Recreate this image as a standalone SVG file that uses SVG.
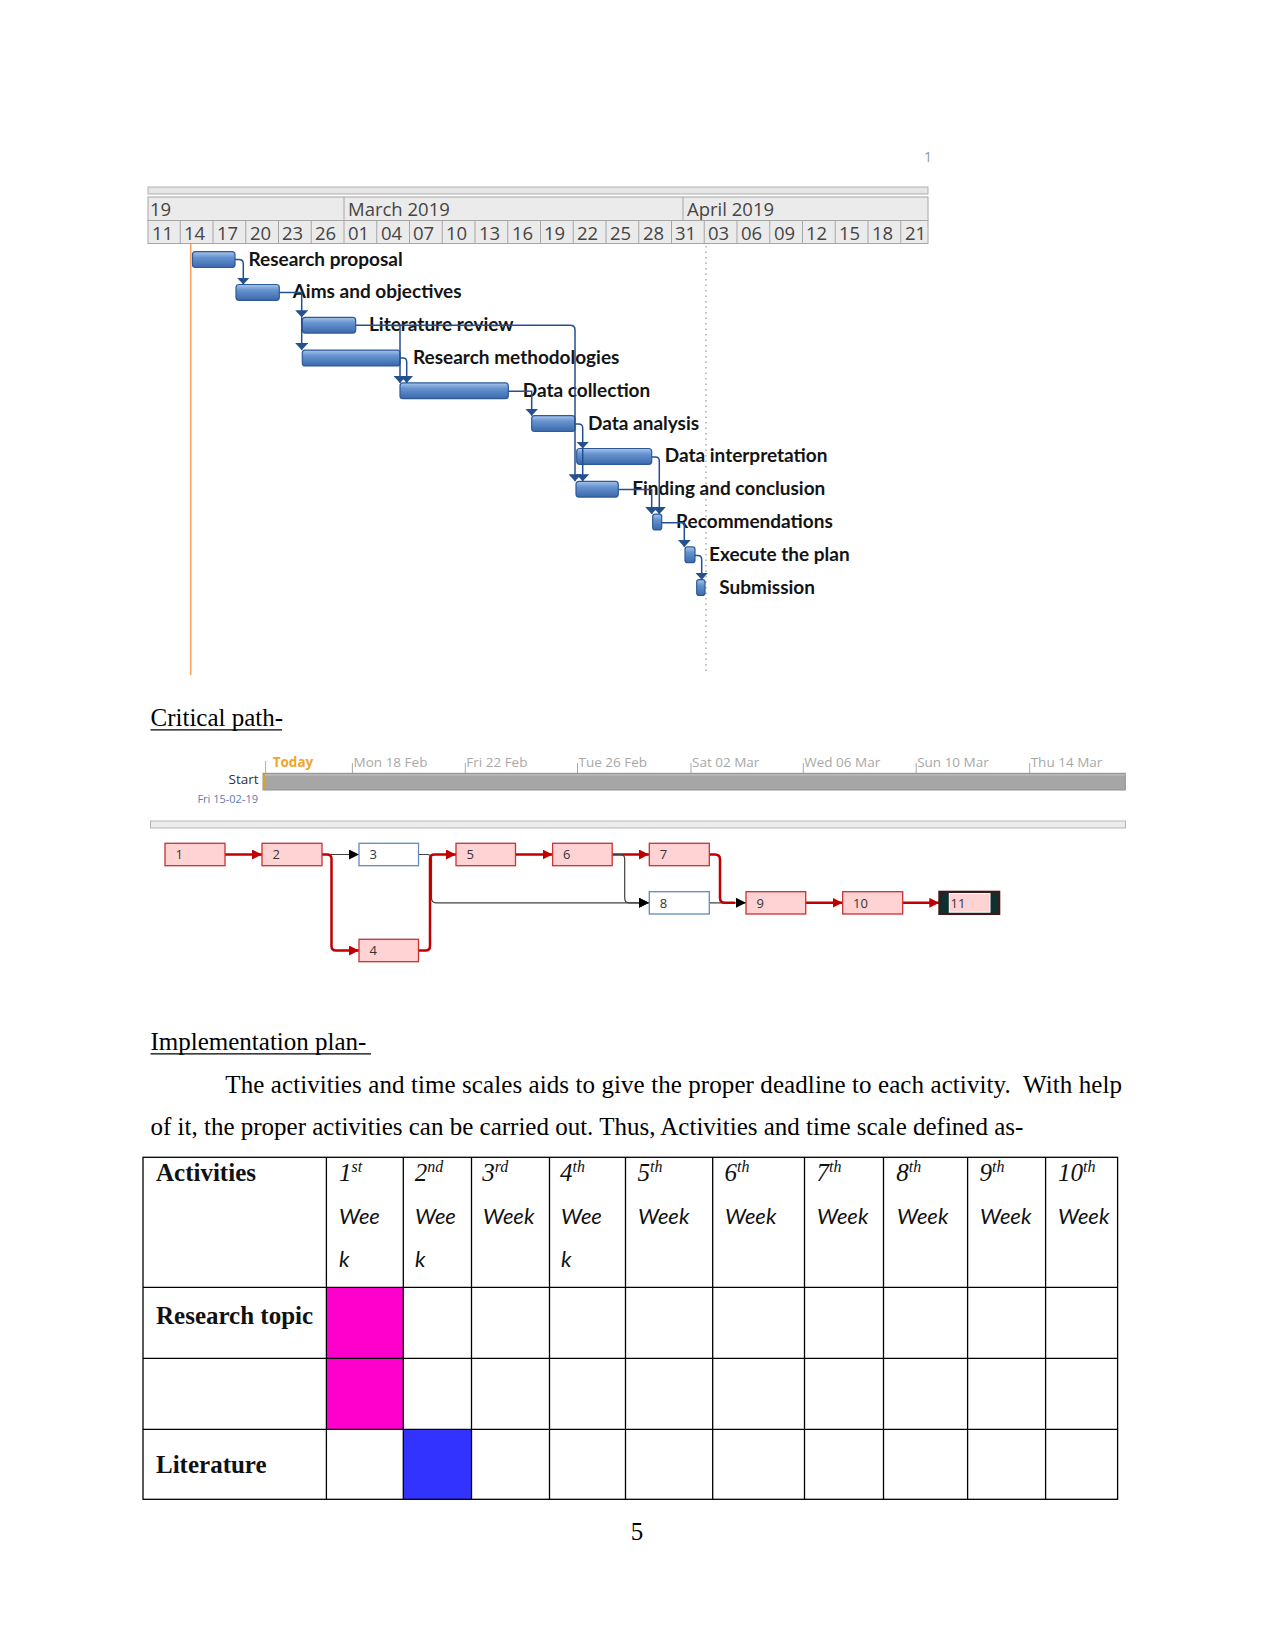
<svg xmlns="http://www.w3.org/2000/svg" width="1275" height="1651" viewBox="0 0 1275 1651">
<defs>
<linearGradient id="bar" x1="0" y1="0" x2="0" y2="1">
<stop offset="0" stop-color="#a9c6ea"/>
<stop offset="0.35" stop-color="#6693d0"/>
<stop offset="1" stop-color="#3b68aa"/>
</linearGradient>
<marker id="ga" markerUnits="userSpaceOnUse" viewBox="0 0 7 13" refX="7" refY="6.5" markerWidth="7" markerHeight="13" orient="auto">
<path d="M0,0 L7,6.5 L0,13 z" fill="#24508f"/>
</marker>
<marker id="ra" markerUnits="userSpaceOnUse" viewBox="0 0 10 10" refX="10" refY="5" markerWidth="10" markerHeight="10" orient="auto">
<path d="M0,0 L10,5 L0,10 z" fill="#c00000"/>
</marker>
<marker id="ka" markerUnits="userSpaceOnUse" viewBox="0 0 10 10" refX="10" refY="5" markerWidth="10" markerHeight="10" orient="auto">
<path d="M0,0 L10,5 L0,10 z" fill="#000"/>
</marker>
</defs>
<style>
.hdr{fill:#ebebeb;stroke:#a6a6a6;stroke-width:1}
.hn{font-family:"Open Sans","DejaVu Sans",sans-serif;font-size:18.5px;fill:#454545}
.bar{fill:url(#bar);stroke:#2d5a96;stroke-width:1.2}
.gl{font-family:Lato,"Open Sans",sans-serif;font-weight:bold;font-size:19px;fill:#141414}
.gc{fill:none;stroke:#24508f;stroke-width:1.5}
.tl{font-family:"Open Sans","DejaVu Sans",sans-serif;font-size:13.5px;fill:#a8a8a8}
.tk{stroke:#a8a8a8;stroke-width:1}
.nd{fill:#ffd3d3;stroke:#cc3030;stroke-width:1.3}
.nb{fill:#fff;stroke:#5f8bc0;stroke-width:1.3}
.nt{font-family:"Open Sans","DejaVu Sans",sans-serif;font-size:13px;fill:#333}
.rl{fill:none;stroke:#c00000;stroke-width:2.5}
.kl{fill:none;stroke:#404040;stroke-width:1.2}
.body{font-family:"Liberation Serif","Times New Roman",serif;font-size:25px;fill:#000}
.bold{font-family:"Liberation Serif","Times New Roman",serif;font-size:25px;font-weight:bold;fill:#111}
.num{font-family:"Liberation Serif","Times New Roman",serif;font-size:25px;font-style:italic;fill:#111}
.sup{font-size:16px}
.wk{font-family:Lato,"Open Sans",sans-serif;font-style:italic;font-size:22px;fill:#111}
.tb{fill:none;stroke:#000;stroke-width:1.3}
</style>
<rect width="1275" height="1651" fill="#fff"/>

<text x="924" y="162" font-family="Open Sans, sans-serif" font-size="14" fill="#8a9aaa">1</text>

<g id="gantt-header">
<rect x="148" y="187" width="780" height="7" fill="#e6e6e6" stroke="#b0b0b0"/>
<rect class="hdr" x="148" y="197" width="780" height="23.5"/>
<rect class="hdr" x="148" y="220.5" width="780" height="23"/>
<path d="M344,197V220.5M683,197V220.5" stroke="#a6a6a6"/>
<path d="M180.25,220.5V243.5M213,220.5V243.5M245.75,220.5V243.5M278.5,220.5V243.5M311.25,220.5V243.5M344,220.5V243.5M376.75,220.5V243.5M409.5,220.5V243.5M442.25,220.5V243.5M475,220.5V243.5M507.75,220.5V243.5M540.5,220.5V243.5M573.25,220.5V243.5M606,220.5V243.5M638.75,220.5V243.5M671.5,220.5V243.5M704.25,220.5V243.5M737,220.5V243.5M769.75,220.5V243.5M802.5,220.5V243.5M835.25,220.5V243.5M868,220.5V243.5M900.75,220.5V243.5" stroke="#a6a6a6"/>
<text class="hn" x="150" y="216">19</text>
<text class="hn" x="348" y="216">March 2019</text>
<text class="hn" x="687" y="216">April 2019</text>
<g class="hn">
<text x="152" y="240">11</text><text x="184" y="240">14</text><text x="217" y="240">17</text><text x="250" y="240">20</text><text x="282" y="240">23</text><text x="315" y="240">26</text><text x="348" y="240">01</text><text x="381" y="240">04</text><text x="413" y="240">07</text><text x="446" y="240">10</text><text x="479" y="240">13</text><text x="512" y="240">16</text><text x="544" y="240">19</text><text x="577" y="240">22</text><text x="610" y="240">25</text><text x="643" y="240">28</text><text x="675" y="240">31</text><text x="708" y="240">03</text><text x="741" y="240">06</text><text x="774" y="240">09</text><text x="806" y="240">12</text><text x="839" y="240">15</text><text x="872" y="240">18</text><text x="905" y="240">21</text>
</g>
<line x1="190.7" y1="244" x2="190.7" y2="675" stroke="#f4a460" stroke-width="1.6"/>
<line x1="706" y1="246" x2="706" y2="674" stroke="#a0a0a0" stroke-width="1.3" stroke-dasharray="1.5,4"/>
</g>

<g id="gantt-tasks">
<g id="t1"><rect class="bar" x="192.5" y="251.7" width="42.5" height="15.8" rx="3"/><text class="gl" x="248.5" y="265.5">Research proposal</text></g>
<g id="t2"><rect class="bar" x="236" y="284.5" width="43.3" height="15.8" rx="3"/><text class="gl" x="292.7" y="298.3">Aims and objectives</text></g>
<g id="t3"><rect class="bar" x="302.3" y="317.3" width="53.4" height="15.8" rx="3"/><text class="gl" x="369" y="331.1">Literature review</text></g>
<g id="t4"><rect class="bar" x="302.3" y="350.1" width="97.7" height="15.8" rx="3"/><text class="gl" x="413" y="363.9">Research methodologies</text></g>
<g id="t5"><rect class="bar" x="400" y="382.9" width="108.3" height="15.8" rx="3"/><text class="gl" x="522.7" y="396.7">Data collection</text></g>
<g id="t6"><rect class="bar" x="531.7" y="415.7" width="43.3" height="15.8" rx="3"/><text class="gl" x="588" y="429.5">Data analysis</text></g>
<g id="t7"><rect class="bar" x="576.7" y="448.5" width="75" height="15.8" rx="3"/><text class="gl" x="664.7" y="462.3">Data interpretation</text></g>
<g id="t8"><rect class="bar" x="576" y="481.3" width="42.3" height="15.8" rx="3"/><text class="gl" x="632.3" y="495.1">Finding and conclusion</text></g>
<g id="t9"><rect class="bar" x="652.7" y="514.1" width="9" height="15.8" rx="2.5"/><text class="gl" x="676" y="527.9">Recommendations</text></g>
<g id="t10"><rect class="bar" x="685" y="546.9" width="10" height="15.8" rx="2.5"/><text class="gl" x="709" y="560.7">Execute the plan</text></g>
<g id="t11"><rect class="bar" x="696.7" y="579.7" width="8.3" height="15.8" rx="2.5"/><text class="gl" x="719.3" y="593.5">Submission</text></g>
</g>

<g id="gantt-connectors">
<path class="gc" d="M235,259.5H239Q243.3,259.5 243.3,264V284.5" marker-end="url(#ga)"/>
<path class="gc" d="M279.3,292.5H301.7V317.3" marker-end="url(#ga)"/>
<path class="gc" d="M301.7,317.3V350.1" marker-end="url(#ga)"/>
<path class="gc" d="M355.7,325.3H570Q575,325.3 575,330V481.3" marker-end="url(#ga)"/>
<path class="gc" d="M400,325.3V382.9" marker-end="url(#ga)"/>
<path class="gc" d="M400,358H403Q406.7,358 406.7,362V382.9" marker-end="url(#ga)"/>
<path class="gc" d="M508.3,391.3H531.7V415.7" marker-end="url(#ga)"/>
<path class="gc" d="M575,424H578.7Q582.7,424 582.7,428V448.5" marker-end="url(#ga)"/>
<path class="gc" d="M582.7,448.5V481.3" marker-end="url(#ga)"/>
<path class="gc" d="M651.7,457H655.3Q659.3,457 659.3,461V514.1" marker-end="url(#ga)"/>
<path class="gc" d="M618.3,489.5H651.7V514.1" marker-end="url(#ga)"/>
<path class="gc" d="M661.7,522.7H684.3V546.9" marker-end="url(#ga)"/>
<path class="gc" d="M695,555.5H698Q701.7,555.5 701.7,559.5V579.7" marker-end="url(#ga)"/>
</g>

<text class="body" x="150.5" y="726">Critical path-</text>
<line x1="150.5" y1="729.8" x2="282" y2="729.8" stroke="#000" stroke-width="1.2"/>

<g id="timeline">
<text x="272.7" y="767.3" font-family="Open Sans, sans-serif" font-size="13.5" font-weight="bold" fill="#f2a42a">Today</text>
<line x1="265.6" y1="761" x2="265.6" y2="773" stroke="#f2a42a" stroke-width="1"/>
<text class="tl" x="353.6" y="767.3">Mon 18 Feb</text>
<text class="tl" x="466.3" y="767.3">Fri 22 Feb</text>
<text class="tl" x="578.5" y="767.3">Tue 26 Feb</text>
<text class="tl" x="692" y="767.3">Sat 02 Mar</text>
<text class="tl" x="804.3" y="767.3">Wed 06 Mar</text>
<text class="tl" x="917.2" y="767.3">Sun 10 Mar</text>
<text class="tl" x="1030.7" y="767.3">Thu 14 Mar</text>
<path class="tk" d="M352.4,763V773M465.3,763V773M577.5,763V773M691,763V773M803.3,763V773M916.2,763V773M1029.7,763V773"/>
<rect x="263" y="773.3" width="862.3" height="16.7" fill="#a6a6a6" stroke="#8f8f8f"/>
<line x1="264" y1="775" x2="1125" y2="775" stroke="#c4c4c4" stroke-width="1"/>
<line x1="264" y1="774" x2="264" y2="790" stroke="#d4a52a" stroke-width="2"/>
<text x="258.6" y="784.3" text-anchor="end" font-family="Open Sans, sans-serif" font-size="13.5" fill="#333">Start</text>
<text x="258" y="802.7" text-anchor="end" font-family="Open Sans, sans-serif" font-size="11" fill="#5b7db3">Fri 15-02-19</text>
<rect x="150.5" y="821" width="975" height="7" fill="#ececec" stroke="#b5b5b5"/>
</g>

<g id="network-connectors">
<path class="rl" d="M225,854.5H262" marker-end="url(#ra)"/>
<path class="kl" d="M321.8,854.5H359" marker-end="url(#ka)"/>
<path class="rl" d="M321.8,854.5H327Q331.5,854.5 331.5,859V946Q331.5,950.5 336,950.5H359" marker-end="url(#ra)"/>
<path class="kl" d="M418.6,854.5H427Q431.5,854.5 431.5,859V898Q431.5,902.8 436,902.8H649" marker-end="url(#ka)"/>
<path class="rl" d="M418.6,950.5H425.5Q430,950.5 430,946V859Q430,854.5 434.5,854.5H456" marker-end="url(#ra)"/>
<path class="rl" d="M515.3,854.5H552.6" marker-end="url(#ra)"/>
<path class="rl" d="M612.4,854.5H649" marker-end="url(#ra)"/>
<path class="kl" d="M612.4,854.5H620Q624.7,854.5 624.7,859V898Q624.7,902.8 629,902.8H649" marker-end="url(#ka)"/>
<path class="kl" d="M709.3,902.8H746" marker-end="url(#ka)"/>
<path class="rl" d="M709.3,854.5H715Q720,854.5 720,859.5V898Q720,902.8 725,902.8H735"/>
<path class="rl" d="M805.7,902.8H842.6" marker-end="url(#ra)"/>
<path class="rl" d="M902.5,902.8H939.3" marker-end="url(#ra)"/>
</g>

<g id="network-nodes">
<g id="n1"><rect class="nd" x="165" y="843.3" width="60" height="22.4"/><text class="nt" x="175.5" y="859">1</text></g>
<g id="n2"><rect class="nd" x="262" y="843.3" width="60" height="22.4"/><text class="nt" x="272.5" y="859">2</text></g>
<g id="n3"><rect class="nb" x="359" y="843.3" width="59.5" height="22.4"/><text class="nt" x="369.5" y="859">3</text></g>
<g id="n4"><rect class="nd" x="359" y="939.3" width="59.5" height="22.4"/><text class="nt" x="369.5" y="955">4</text></g>
<g id="n5"><rect class="nd" x="456" y="843.3" width="59.5" height="22.4"/><text class="nt" x="466.5" y="859">5</text></g>
<g id="n6"><rect class="nd" x="552.6" y="843.3" width="59.6" height="22.4"/><text class="nt" x="563" y="859">6</text></g>
<g id="n7"><rect class="nd" x="649.3" y="843.3" width="60" height="22.4"/><text class="nt" x="659.8" y="859">7</text></g>
<g id="n8"><rect class="nb" x="649.3" y="891.7" width="60" height="22.3"/><text class="nt" x="659.8" y="907.5">8</text></g>
<g id="n9"><rect class="nd" x="746" y="891.7" width="59.7" height="22.3"/><text class="nt" x="756.5" y="907.5">9</text></g>
<g id="n10"><rect class="nd" x="842.7" y="891.7" width="60" height="22.3"/><text class="nt" x="853" y="907.5">10</text></g>
<g id="n11"><rect x="939.3" y="891.7" width="60" height="22.3" fill="#0d3030" stroke="#4a1414" stroke-width="2"/><rect x="949.3" y="893.5" width="40.7" height="18.7" fill="#ffd3d3" stroke="#fff" stroke-width="1"/><text class="nt" x="950.5" y="907.5">11</text></g>
</g>

<g id="text-body">
<text class="body" x="150.5" y="1050">Implementation plan-</text>
<line x1="150.5" y1="1053.8" x2="371" y2="1053.8" stroke="#000" stroke-width="1.2"/>
<text class="body" x="225.3" y="1092.7" xml:space="preserve" textLength="896.7" lengthAdjust="spacing">The activities and time scales aids to give the proper deadline to each activity.  With help</text>
<text class="body" x="150.5" y="1135">of it, the proper activities can be carried out. Thus, Activities and time scale defined as-</text>
<text class="body" x="637" y="1540" text-anchor="middle">5</text>
</g>

<g id="table">
<rect x="326.4" y="1287.3" width="76.9" height="142" fill="#ff00cc"/>
<rect x="403.3" y="1429.3" width="68.2" height="70" fill="#3333ff"/>
<rect class="tb" x="143" y="1157.3" width="974.6" height="342"/>
<path class="tb" d="M143,1287.3H1117.6M143,1358.3H1117.6M143,1429.3H1117.6M326.4,1157.3V1499.3M403.3,1157.3V1499.3M471.5,1157.3V1499.3M549.5,1157.3V1499.3M625.5,1157.3V1499.3M712.7,1157.3V1499.3M804.5,1157.3V1499.3M883.5,1157.3V1499.3M967.6,1157.3V1499.3M1045.6,1157.3V1499.3"/>
<text class="bold" x="156" y="1180.7">Activities</text>
<text class="bold" x="156" y="1324">Research topic</text>
<text class="bold" x="156" y="1472.7">Literature</text>
<text class="num" x="339" y="1180.7">1<tspan class="sup" dy="-9">st</tspan></text>
<text class="num" x="414.8" y="1180.7">2<tspan class="sup" dy="-9">nd</tspan></text>
<text class="num" x="482.2" y="1180.7">3<tspan class="sup" dy="-9">rd</tspan></text>
<text class="num" x="560" y="1180.7">4<tspan class="sup" dy="-9">th</tspan></text>
<text class="num" x="637.5" y="1180.7">5<tspan class="sup" dy="-9">th</tspan></text>
<text class="num" x="724.6" y="1180.7">6<tspan class="sup" dy="-9">th</tspan></text>
<text class="num" x="816.5" y="1180.7">7<tspan class="sup" dy="-9">th</tspan></text>
<text class="num" x="896.3" y="1180.7">8<tspan class="sup" dy="-9">th</tspan></text>
<text class="num" x="979.5" y="1180.7">9<tspan class="sup" dy="-9">th</tspan></text>
<text class="num" x="1058" y="1180.7">10<tspan class="sup" dy="-9">th</tspan></text>
<text class="wk" x="339" y="1224">Wee</text><text class="wk" x="339" y="1266.7">k</text>
<text class="wk" x="415" y="1224">Wee</text><text class="wk" x="415" y="1266.7">k</text>
<text class="wk" x="483" y="1224">Week</text>
<text class="wk" x="561" y="1224">Wee</text><text class="wk" x="561" y="1266.7">k</text>
<text class="wk" x="638" y="1224">Week</text>
<text class="wk" x="725" y="1224">Week</text>
<text class="wk" x="817" y="1224">Week</text>
<text class="wk" x="897" y="1224">Week</text>
<text class="wk" x="980" y="1224">Week</text>
<text class="wk" x="1058" y="1224">Week</text>
</g>
</svg>
